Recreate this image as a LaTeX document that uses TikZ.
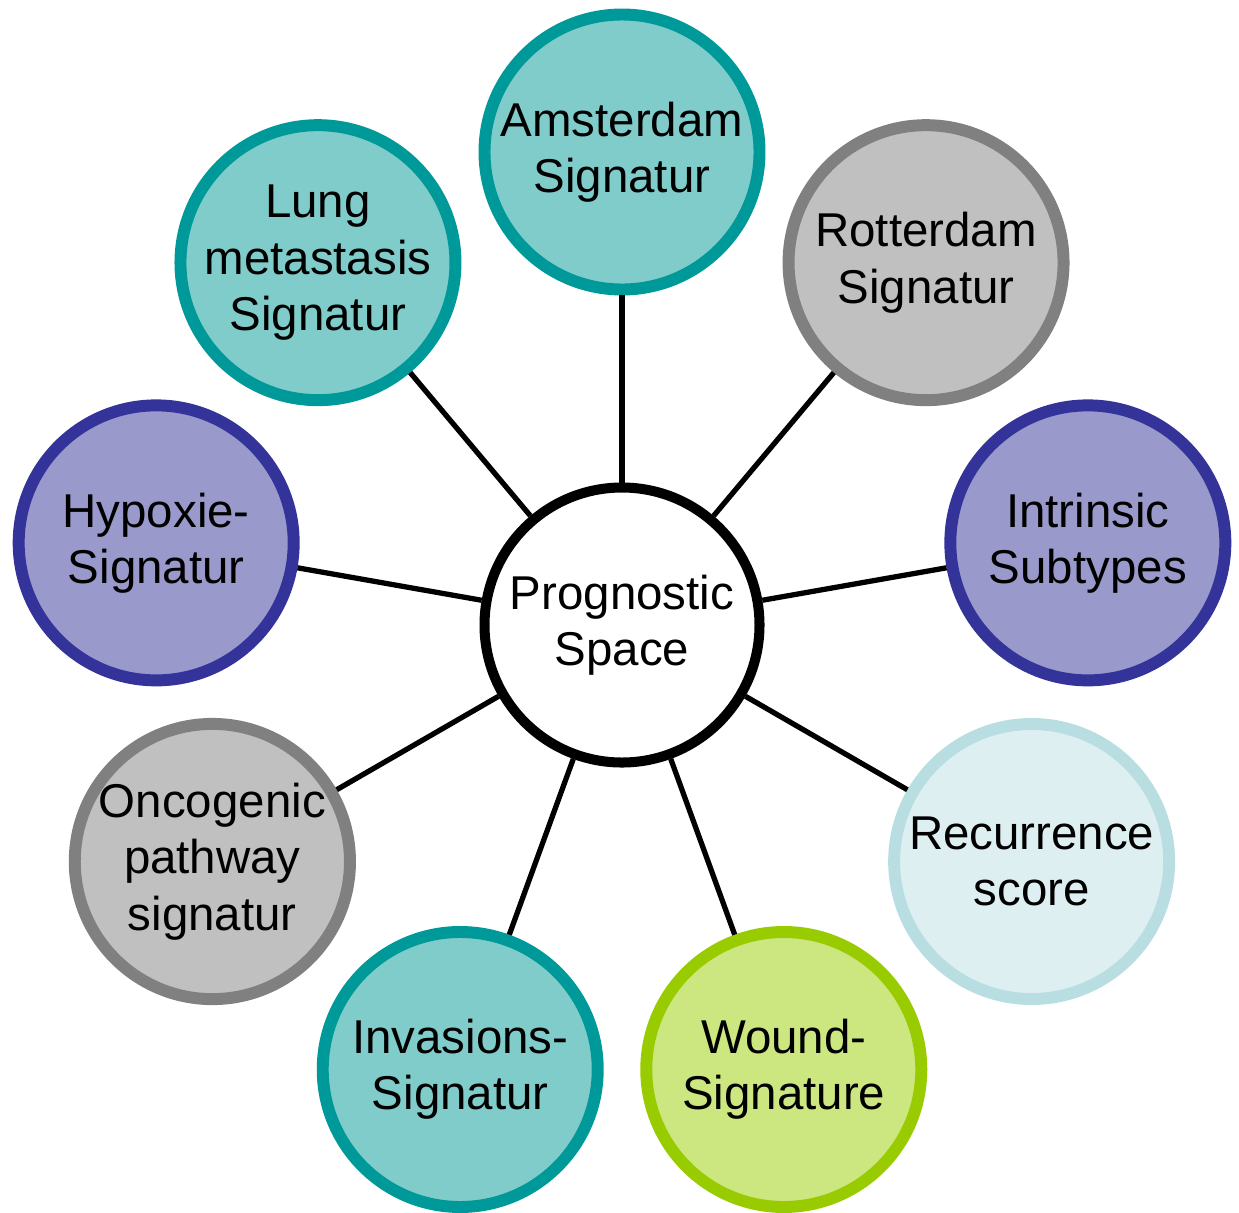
\documentclass[tikz,border=0pt]{standalone}
\usepackage{fontspec}
\setmainfont{Liberation Sans}
\definecolor{tealline}{HTML}{009999}
\definecolor{tealfill}{HTML}{80CCCA}
\definecolor{grayline}{HTML}{808080}
\definecolor{grayfill}{HTML}{C0C0C0}
\definecolor{blueline}{HTML}{333399}
\definecolor{bluefill}{HTML}{9999CC}
\definecolor{paleline}{HTML}{B8DEE2}
\definecolor{palefill}{HTML}{DEEFF1}
\definecolor{limeline}{HTML}{99CC00}
\definecolor{limefill}{HTML}{CCE680}
\tikzset{
	sig/.style={circle,minimum size=5.5cm,inner sep=0pt,line width=6.8pt,align=center,
		font=\fontsize{27}{32}\selectfont},
	sigteal/.style={sig,draw=tealline,fill=tealfill},
	siggray/.style={sig,draw=grayline,fill=grayfill},
	sigblue/.style={sig,draw=blueline,fill=bluefill},
	sigpale/.style={sig,draw=paleline,fill=palefill},
	siglime/.style={sig,draw=limeline,fill=limefill},
	hub/.style={sig,draw=black,fill=white,line width=5.7pt},
	link/.style={line width=3pt,black},
}
\begin{document}
\begin{tikzpicture}
		\useasboundingbox (0,0) rectangle (24.78,-24.24);
		\coordinate (O) at (12.44,-12.50);
		\node[hub] (ps) at (O) {Prognostic\\Space};
	%	outer ring, 40 degrees apart
		\node[sigteal] (ams) at ([shift={(90:9.46)}]O) {Amsterdam\\Signatur};
		\node[siggray] (rot) at ([shift={(50:9.46)}]O) {Rotterdam\\Signatur};
		\node[sigblue] (ist) at ([shift={(10:9.46)}]O) {Intrinsic\\Subtypes};
		\node[sigpale] (rec) at ([shift={(-30:9.46)}]O) {Recurrence\\score};
		\node[siglime] (wnd) at ([shift={(-70:9.46)}]O) {Wound-\\Signature};
		\node[sigteal] (inv) at ([shift={(-110:9.46)}]O) {Invasions-\\Signatur};
		\node[siggray] (onc) at ([shift={(-150:9.46)}]O) {Oncogenic\\pathway\\signatur};
		\node[sigblue] (hyp) at ([shift={(170:9.46)}]O) {Hypoxie-\\Signatur};
		\node[sigteal] (lung) at ([shift={(130:9.46)}]O) {Lung\\metastasis\\Signatur};
	%	spokes
		\draw[link] (ps) -- (ams);
		\draw[link] (ps) -- (rot);
		\draw[link] (ps) -- (ist);
		\draw[link] (ps) -- (rec);
		\draw[link] (ps) -- (wnd);
		\draw[link] (ps) -- (inv);
		\draw[link] (ps) -- (onc);
		\draw[link] (ps) -- (hyp);
		\draw[link] (ps) -- (lung);
	\end{tikzpicture}
\end{document}
